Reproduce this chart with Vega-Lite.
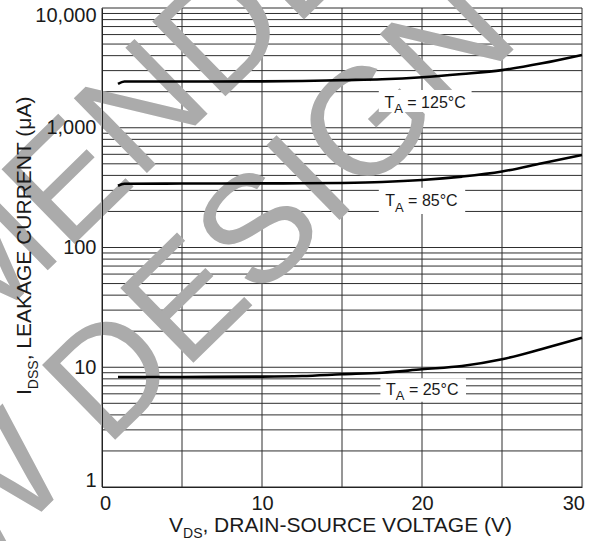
{
  "$schema": "https://vega.github.io/schema/vega-lite/v6.json",
  "width": 480,
  "height": 479,
  "autosize": "none",
  "padding": {"left": 102, "top": 8, "right": 15, "bottom": 54},
  "background": "white",
  "config": {
    "view": {"stroke": null},
    "font": "Liberation Sans",
    "axis": {
      "grid": false, "ticks": false, "tickSize": 0, "domain": true, "domainColor": "#222222",
      "labelFont": "Liberation Sans", "labelFontSize": 20, "labelFontWeight": "normal", "labelColor": "#1a1a1a",
      "labelPadding": 6, "labelFlush": true, "zindex": 1
    }
  },
  "datasets": {
    "ygrid": [
      {"i": 1}, {"i": 2}, {"i": 3}, {"i": 4}, {"i": 5}, {"i": 6}, {"i": 7}, {"i": 8}, {"i": 9},
      {"i": 10}, {"i": 20}, {"i": 30}, {"i": 40}, {"i": 50}, {"i": 60}, {"i": 70}, {"i": 80}, {"i": 90},
      {"i": 100}, {"i": 200}, {"i": 300}, {"i": 400}, {"i": 500}, {"i": 600}, {"i": 700}, {"i": 800}, {"i": 900},
      {"i": 1000}, {"i": 2000}, {"i": 3000}, {"i": 4000}, {"i": 5000}, {"i": 6000}, {"i": 7000}, {"i": 8000}, {"i": 9000},
      {"i": 10000}
    ],
    "xgrid": [{"v": 0}, {"v": 5}, {"v": 10}, {"v": 15}, {"v": 20}, {"v": 25}, {"v": 30}],
    "stamp": [
      {"w": "NOT RECOMMENDED FOR", "v": -7.8, "i": 58.9},
      {"w": "NEW DESIGN", "v": 2.4, "i": 13.8}
    ],
    "boxes": [
      {"v": 17.3, "v2": 23.1, "i": 1354, "i2": 2066},
      {"v": 17.3, "v2": 22.7, "i": 190, "i2": 315},
      {"v": 17.4, "v2": 22.75, "i": 5.15, "i2": 8.1}
    ],
    "curves": [
      {"T": "125", "v": 1.0, "i": 2320}, {"T": "125", "v": 1.4, "i": 2430}, {"T": "125", "v": 5, "i": 2430},
      {"T": "125", "v": 10, "i": 2440}, {"T": "125", "v": 12.5, "i": 2460}, {"T": "125", "v": 15, "i": 2500},
      {"T": "125", "v": 17.5, "i": 2540}, {"T": "125", "v": 20, "i": 2640}, {"T": "125", "v": 22.5, "i": 2810},
      {"T": "125", "v": 25, "i": 3030}, {"T": "125", "v": 27.5, "i": 3450}, {"T": "125", "v": 30, "i": 4050},
      {"T": "85", "v": 1.0, "i": 328}, {"T": "85", "v": 1.4, "i": 341}, {"T": "85", "v": 5, "i": 342},
      {"T": "85", "v": 10, "i": 343}, {"T": "85", "v": 12.5, "i": 344}, {"T": "85", "v": 15, "i": 346},
      {"T": "85", "v": 17.5, "i": 352}, {"T": "85", "v": 20, "i": 366}, {"T": "85", "v": 22.5, "i": 391},
      {"T": "85", "v": 25, "i": 431}, {"T": "85", "v": 27.5, "i": 506}, {"T": "85", "v": 30, "i": 593},
      {"T": "25", "v": 1.0, "i": 8.3}, {"T": "25", "v": 5, "i": 8.3}, {"T": "25", "v": 10, "i": 8.35},
      {"T": "25", "v": 12.5, "i": 8.45}, {"T": "25", "v": 15, "i": 8.73}, {"T": "25", "v": 17.5, "i": 9.0},
      {"T": "25", "v": 20, "i": 9.61}, {"T": "25", "v": 22.5, "i": 10.24}, {"T": "25", "v": 25, "i": 11.65},
      {"T": "25", "v": 27.5, "i": 14.2}, {"T": "25", "v": 30, "i": 17.6}
    ],
    "tags": [
      {"v": 17.65, "i": 1471, "main": "T", "sub": "A", "rest": "= 125°C"},
      {"v": 17.7, "i": 222, "main": "T", "sub": "A", "rest": "= 85°C"},
      {"v": 17.75, "i": 5.87, "main": "T", "sub": "A", "rest": "= 25°C"}
    ],
    "xtitle": [{"v": 4.19, "i": 0.421, "main": "V", "sub": "DS", "rest": ", DRAIN-SOURCE VOLTAGE (V)"}],
    "ytitle": [{"v": -4.456, "i": 5.87, "main": "I", "sub": "DSS", "rest": ", LEAKAGE CURRENT (μA)"}]
  },
  "layer": [
    {
      "data": {"name": "ygrid"},
      "mark": {"type": "rule", "color": "#2e2e2e", "strokeWidth": 1},
      "encoding": {
        "y": {
          "field": "i", "type": "quantitative",
          "scale": {"type": "log", "domain": [1, 10000], "nice": false},
          "axis": {"orient": "left", "values": [1, 10, 100, 1000, 10000], "format": ",", "labelFlushOffset": 3, "title": null, "zindex": 1}
        }
      }
    },
    {
      "data": {"name": "xgrid"},
      "mark": {"type": "rule", "color": "#2e2e2e", "strokeWidth": 1},
      "encoding": {
        "x": {
          "field": "v", "type": "quantitative",
          "scale": {"domain": [0, 30], "nice": false, "zero": false},
          "axis": {"orient": "bottom", "values": [0, 10, 20, 30], "labelAngle": 0, "labelFlushOffset": 2.5, "title": null, "zindex": 1}
        }
      }
    },
    {
      "data": {"name": "stamp"},
      "mark": {
        "type": "text", "font": "Liberation Sans", "fontSize": 152, "angle": 315.6,
        "align": "center", "baseline": "middle", "color": "#ababab"
      },
      "encoding": {
        "x": {"field": "v", "type": "quantitative"},
        "y": {"field": "i", "type": "quantitative"},
        "text": {"field": "w"}
      }
    },
    {
      "data": {"name": "boxes"},
      "mark": {"type": "rect", "color": "white"},
      "encoding": {
        "x": {"field": "v", "type": "quantitative"},
        "x2": {"field": "v2"},
        "y": {"field": "i", "type": "quantitative"},
        "y2": {"field": "i2"}
      }
    },
    {
      "data": {"name": "curves"},
      "mark": {"type": "line", "color": "black", "strokeWidth": 2.6, "interpolate": "monotone"},
      "encoding": {
        "x": {"field": "v", "type": "quantitative"},
        "y": {"field": "i", "type": "quantitative"},
        "detail": {"field": "T"}
      }
    },
    {
      "data": {"name": "tags"},
      "mark": {"type": "text", "font": "Liberation Sans", "fontSize": 16, "align": "left", "baseline": "alphabetic", "color": "#1a1a1a"},
      "encoding": {
        "x": {"field": "v", "type": "quantitative"},
        "y": {"field": "i", "type": "quantitative"},
        "text": {"field": "main"}
      }
    },
    {
      "data": {"name": "tags"},
      "mark": {"type": "text", "font": "Liberation Sans", "fontSize": 13, "align": "left", "baseline": "alphabetic", "dx": 9.8, "dy": 5.5, "color": "#1a1a1a"},
      "encoding": {
        "x": {"field": "v", "type": "quantitative"},
        "y": {"field": "i", "type": "quantitative"},
        "text": {"field": "sub"}
      }
    },
    {
      "data": {"name": "tags"},
      "mark": {"type": "text", "font": "Liberation Sans", "fontSize": 16, "align": "left", "baseline": "alphabetic", "dx": 22.9, "color": "#1a1a1a"},
      "encoding": {
        "x": {"field": "v", "type": "quantitative"},
        "y": {"field": "i", "type": "quantitative"},
        "text": {"field": "rest"}
      }
    },
    {
      "data": {"name": "xtitle"},
      "mark": {"type": "text", "font": "Liberation Sans", "fontSize": 21, "align": "left", "baseline": "alphabetic", "color": "#1a1a1a"},
      "encoding": {
        "x": {"field": "v", "type": "quantitative"},
        "y": {"field": "i", "type": "quantitative"},
        "text": {"field": "main"}
      }
    },
    {
      "data": {"name": "xtitle"},
      "mark": {"type": "text", "font": "Liberation Sans", "fontSize": 14, "align": "left", "baseline": "alphabetic", "dx": 14, "dy": 6.5, "color": "#1a1a1a"},
      "encoding": {
        "x": {"field": "v", "type": "quantitative"},
        "y": {"field": "i", "type": "quantitative"},
        "text": {"field": "sub"}
      }
    },
    {
      "data": {"name": "xtitle"},
      "mark": {"type": "text", "font": "Liberation Sans", "fontSize": 21, "align": "left", "baseline": "alphabetic", "dx": 33.4, "color": "#1a1a1a"},
      "encoding": {
        "x": {"field": "v", "type": "quantitative"},
        "y": {"field": "i", "type": "quantitative"},
        "text": {"field": "rest"}
      }
    },
    {
      "data": {"name": "ytitle"},
      "mark": {"type": "text", "font": "Liberation Sans", "fontSize": 21, "angle": 270, "align": "left", "baseline": "alphabetic", "color": "#1a1a1a"},
      "encoding": {
        "x": {"field": "v", "type": "quantitative"},
        "y": {"field": "i", "type": "quantitative"},
        "text": {"field": "main"}
      }
    },
    {
      "data": {"name": "ytitle"},
      "mark": {"type": "text", "font": "Liberation Sans", "fontSize": 14, "angle": 270, "align": "left", "baseline": "alphabetic", "dx": 5.8, "dy": 7, "color": "#1a1a1a"},
      "encoding": {
        "x": {"field": "v", "type": "quantitative"},
        "y": {"field": "i", "type": "quantitative"},
        "text": {"field": "sub"}
      }
    },
    {
      "data": {"name": "ytitle"},
      "mark": {"type": "text", "font": "Liberation Sans", "fontSize": 21, "angle": 270, "align": "left", "baseline": "alphabetic", "dx": 34.6, "color": "#1a1a1a"},
      "encoding": {
        "x": {"field": "v", "type": "quantitative"},
        "y": {"field": "i", "type": "quantitative"},
        "text": {"field": "rest"}
      }
    }
  ]
}
